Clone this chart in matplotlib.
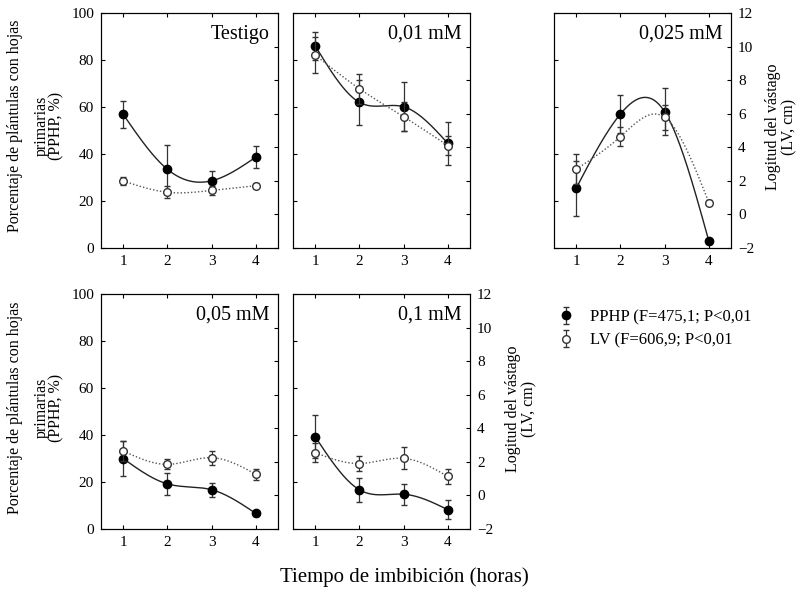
import numpy as np
import matplotlib
matplotlib.use("Agg")
import matplotlib.pyplot as plt

plt.rcParams['font.family'] = ['Liberation Serif', 'DejaVu Serif']

horas = [1, 2, 3, 4]
titulos = ["Testigo", "0,01 mM", "0,025 mM", "0,05 mM", "0,1 mM"]

# PPHP (%), media y error
pphp = [[56.9, 33.5, 28.6, 38.7],
        [86.1, 62.0, 60.1, 44.5],
        [25.4, 57.0, 58.0, 2.9],
        [30.0, 19.2, 16.7, 6.6],
        [39.3, 16.7, 14.8, 8.2]]
pphp_err = [[5.7, 10.5, 4.0, 4.8],
            [6.0, 9.7, 10.5, 9.3],
            [11.8, 8.2, 10.0, 0.7],
            [7.5, 4.8, 3.0, 1.0],
            [9.0, 5.0, 4.4, 4.0]]
# LV (cm), media y error
lv = [[2.0, 1.32, 1.43, 1.71],
      [9.5, 7.49, 5.82, 4.1],
      [2.69, 4.63, 5.79, 0.70],
      [2.65, 1.85, 2.25, 1.26],
      [2.55, 1.9, 2.21, 1.13]]
lv_err = [[0.22, 0.36, 0.25, 0.15],
          [1.1, 0.9, 0.85, 0.55],
          [0.9, 0.57, 0.75, 0.15],
          [0.6, 0.3, 0.42, 0.33],
          [0.57, 0.47, 0.66, 0.45]]


def spline(x, y, n=200):
    # spline cubico natural
    x = np.asarray(x, float); y = np.asarray(y, float)
    k = len(x)
    h = np.diff(x)
    A = np.zeros((k, k)); b = np.zeros(k)
    A[0, 0] = 1; A[-1, -1] = 1
    for i in range(1, k - 1):
        A[i, i - 1] = h[i - 1]
        A[i, i] = 2 * (h[i - 1] + h[i])
        A[i, i + 1] = h[i]
        b[i] = 3 * ((y[i + 1] - y[i]) / h[i] - (y[i] - y[i - 1]) / h[i - 1])
    c = np.linalg.solve(A, b)
    xs = np.linspace(x[0], x[-1], n)
    ys = np.zeros_like(xs)
    for j, xv in enumerate(xs):
        i = min(np.searchsorted(x, xv, side='right') - 1, k - 2)
        d = (c[i + 1] - c[i]) / (3 * h[i])
        bb = (y[i + 1] - y[i]) / h[i] - h[i] * (2 * c[i] + c[i + 1]) / 3
        t = xv - x[i]
        ys[j] = y[i] + bb * t + c[i] * t ** 2 + d * t ** 3
    return xs, ys


fig = plt.figure(figsize=(8.01, 5.89), dpi=100)
W, H = 801.0, 589.0
pos = [(101, 13), (293, 13), (554, 13), (101, 294), (293, 294)]
aw, ah = 177, 235

for k in range(5):
    px, py = pos[k]
    ax = fig.add_axes([px / W, 1 - (py + ah) / H, aw / W, ah / H])
    ax2 = ax.twinx()
    ax.set_xlim(0.5, 4.5)
    ax.set_ylim(0, 100)
    ax2.set_ylim(-2, 12)
    ax.set_yticks([0, 20, 40, 60, 80, 100])
    ax2.set_yticks([-2, 0, 2, 4, 6, 8, 10, 12])
    ax.set_xticks(horas)
    ax.tick_params(direction='in', top=True, length=3, labelsize=11, pad=5)
    ax2.tick_params(direction='in', length=3, labelsize=11, pad=5)
    if k not in (0, 3):
        ax.set_yticklabels([])
    if k not in (2, 4):
        ax2.set_yticklabels([])

    xs, ys = spline(horas, pphp[k])
    ax.plot(xs, ys, color='#222222', lw=1.0, zorder=2)
    xs, ys = spline(horas, lv[k])
    ax2.plot(xs, ys, color='#555555', lw=1.0, ls=(0, (1, 1.5)), zorder=2)

    ax.errorbar(horas, pphp[k], yerr=pphp_err[k], fmt='o', color='black',
                ms=6, ecolor='#333333', elinewidth=0.9, capsize=2.5,
                label='PPHP (F=475,1; P<0,01', zorder=3)
    ax2.errorbar(horas, lv[k], yerr=lv_err[k], fmt='o', color='black',
                 mfc='white', mec='#333333', ms=5.5, ecolor='#333333',
                 elinewidth=0.9, capsize=2.5,
                 label='LV (F=606,9; P<0,01', zorder=3)
    ax.text(0.95, 0.95, titulos[k], transform=ax.transAxes, ha='right',
            va='top', fontsize=14.5)
    if k == 0:
        h1, l1 = ax.get_legend_handles_labels()
        h2, l2 = ax2.get_legend_handles_labels()

fig.legend(h1 + h2, l1 + l2, loc='upper left',
           bbox_to_anchor=(543 / W, 1 - 294 / H), frameon=False,
           fontsize=12, handlelength=1.0, handletextpad=0.9, labelspacing=0.45)

# etiquetas de los ejes
for yc in (126, 408):
    fig.text(15 / W, 1 - yc / H, "Porcentaje de plántulas con hojas",
             rotation=90, ha='center', va='center', fontsize=11.5)
    fig.text(49 / W, 1 - yc / H, "primarias\n(PPHP, %)", rotation=90,
             ha='center', va='center', multialignment='center',
             fontsize=11.5, linespacing=0.85)
for xc, yc in ((781, 127), (521, 409)):
    fig.text(xc / W, 1 - yc / H, "Logitud del vástago\n(LV, cm)", rotation=90,
             ha='center', va='center', multialignment='center',
             fontsize=11.5, linespacing=1.0)

fig.text(404 / W, 1 - 577 / H, "Tiempo de imbibición (horas)", ha='center',
         va='center', fontsize=15)

fig.savefig("out.png", dpi=100)
